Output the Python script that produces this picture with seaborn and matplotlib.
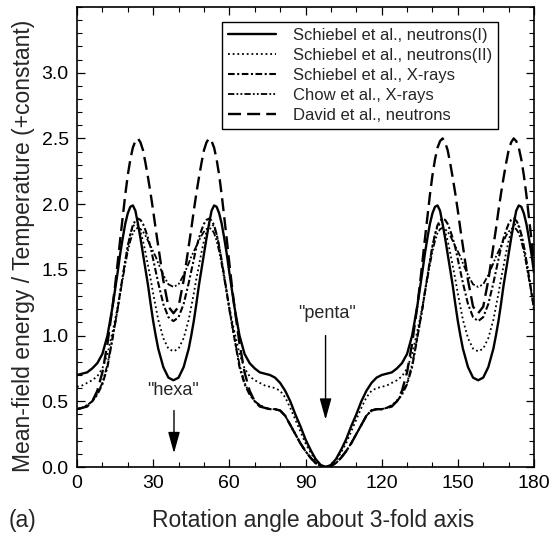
import matplotlib
matplotlib.use("Agg")
import matplotlib.pyplot as plt
import numpy as np
import pandas as pd
import seaborn as sns
from matplotlib.ticker import MultipleLocator, FormatStrFormatter

# ---------------- data ----------------
angle = ([0, 2, 4, 6, 8, 10, 12, 14] + list(range(15, 32)) + [32, 34, 36]
         + [38, 40, 42] + list(range(44, 63)) + list(range(64, 99, 2))
         + list(range(100, 135, 2)) + list(range(135, 152)) + [152, 154, 156, 158]
         + [160, 162, 164] + list(range(165, 181)))

schiebel_neutrons_1 = (
    [0.70, 0.71, 0.72, 0.75, 0.79, 0.86, 1.00, 1.22]
    + [1.35, 1.48, 1.62, 1.74, 1.85, 1.93, 1.98, 1.99, 1.95, 1.85, 1.74, 1.62, 1.50, 1.38, 1.24, 1.11, 1.00]
    + [0.90, 0.76, 0.68]
    + [0.66, 0.68, 0.76]
    + [0.90, 1.00, 1.11, 1.24, 1.38, 1.50, 1.62, 1.74, 1.85, 1.95, 1.99, 1.98, 1.93, 1.85, 1.74, 1.62, 1.48, 1.35, 1.22]
    + [1.00, 0.86, 0.79, 0.75, 0.72, 0.71, 0.70, 0.68, 0.64, 0.58, 0.50, 0.40, 0.31, 0.21, 0.13, 0.06, 0.015, 0.00]
    + [0.015, 0.06, 0.13, 0.21, 0.31, 0.40, 0.50, 0.58, 0.64, 0.68, 0.70, 0.71, 0.72, 0.75, 0.79, 0.86, 1.00, 1.22]
    + [1.35, 1.48, 1.62, 1.74, 1.85, 1.93, 1.98, 1.99, 1.95, 1.85, 1.74, 1.62, 1.50, 1.38, 1.24, 1.11, 1.00]
    + [0.90, 0.76, 0.68, 0.66]
    + [0.68, 0.76, 0.90]
    + [1.00, 1.11, 1.24, 1.38, 1.50, 1.62, 1.74, 1.85, 1.95, 1.99, 1.98, 1.93, 1.85, 1.74, 1.62, 1.48])

schiebel_neutrons_2 = (
    [0.61, 0.62, 0.64, 0.66, 0.69, 0.75, 0.86, 1.03]
    + [1.12, 1.22, 1.33, 1.45, 1.57, 1.68, 1.77, 1.83, 1.85, 1.84, 1.79, 1.72, 1.63, 1.53, 1.43, 1.32, 1.22]
    + [1.12, 0.98, 0.90]
    + [0.88, 0.90, 0.98]
    + [1.12, 1.22, 1.32, 1.43, 1.53, 1.63, 1.72, 1.79, 1.84, 1.85, 1.83, 1.77, 1.68, 1.57, 1.45, 1.33, 1.22, 1.12, 1.03]
    + [0.86, 0.75, 0.69, 0.66, 0.64, 0.62, 0.61, 0.60, 0.58, 0.53, 0.45, 0.36, 0.27, 0.18, 0.11, 0.05, 0.013, 0.00]
    + [0.013, 0.05, 0.11, 0.18, 0.27, 0.36, 0.45, 0.53, 0.58, 0.60, 0.61, 0.62, 0.64, 0.66, 0.69, 0.75, 0.86, 1.03]
    + [1.12, 1.22, 1.33, 1.45, 1.57, 1.68, 1.77, 1.83, 1.85, 1.84, 1.79, 1.72, 1.63, 1.53, 1.43, 1.32, 1.22]
    + [1.12, 0.98, 0.90, 0.88]
    + [0.90, 0.98, 1.12]
    + [1.22, 1.32, 1.43, 1.53, 1.63, 1.72, 1.79, 1.84, 1.85, 1.83, 1.77, 1.68, 1.57, 1.45, 1.33, 1.22])

schiebel_xrays = (
    [0.44, 0.45, 0.47, 0.50, 0.55, 0.63, 0.76, 0.98]
    + [1.09, 1.20, 1.33, 1.45, 1.57, 1.68, 1.77, 1.84, 1.875, 1.89, 1.88, 1.85, 1.80, 1.74, 1.67, 1.58, 1.49]
    + [1.40, 1.24, 1.14]
    + [1.11, 1.14, 1.24]
    + [1.40, 1.49, 1.58, 1.67, 1.74, 1.80, 1.85, 1.88, 1.89, 1.875, 1.84, 1.77, 1.68, 1.57, 1.45, 1.33, 1.20, 1.09, 0.98]
    + [0.76, 0.63, 0.55, 0.50, 0.47, 0.45, 0.44, 0.44, 0.43, 0.39, 0.32, 0.25, 0.18, 0.12, 0.07, 0.03, 0.008, 0.00]
    + [0.008, 0.03, 0.07, 0.12, 0.18, 0.25, 0.32, 0.39, 0.43, 0.44, 0.44, 0.45, 0.47, 0.50, 0.55, 0.63, 0.76, 0.98]
    + [1.09, 1.20, 1.33, 1.45, 1.57, 1.68, 1.77, 1.84, 1.875, 1.89, 1.88, 1.85, 1.80, 1.74, 1.67, 1.58, 1.49]
    + [1.40, 1.24, 1.14, 1.11]
    + [1.14, 1.24, 1.40]
    + [1.49, 1.58, 1.67, 1.74, 1.80, 1.85, 1.88, 1.89, 1.875, 1.84, 1.77, 1.68, 1.57, 1.45, 1.33, 1.20])

chow_xrays = (
    [0.44, 0.45, 0.47, 0.50, 0.56, 0.64, 0.78, 0.98]
    + [1.09, 1.20, 1.32, 1.43, 1.54, 1.64, 1.72, 1.78, 1.81, 1.82, 1.81, 1.79, 1.76, 1.72, 1.68, 1.64, 1.60]
    + [1.55, 1.46, 1.39]
    + [1.37, 1.39, 1.46]
    + [1.55, 1.60, 1.64, 1.68, 1.72, 1.76, 1.79, 1.81, 1.82, 1.81, 1.78, 1.72, 1.64, 1.54, 1.43, 1.32, 1.20, 1.09, 0.98]
    + [0.78, 0.64, 0.56, 0.50, 0.47, 0.45, 0.44, 0.44, 0.43, 0.39, 0.32, 0.25, 0.18, 0.12, 0.07, 0.03, 0.008, 0.00]
    + [0.008, 0.03, 0.07, 0.12, 0.18, 0.25, 0.32, 0.39, 0.43, 0.44, 0.44, 0.45, 0.47, 0.50, 0.56, 0.64, 0.78, 0.98]
    + [1.09, 1.20, 1.32, 1.43, 1.54, 1.64, 1.72, 1.78, 1.81, 1.82, 1.81, 1.79, 1.76, 1.72, 1.68, 1.64, 1.60]
    + [1.55, 1.46, 1.39, 1.37]
    + [1.39, 1.46, 1.55]
    + [1.60, 1.64, 1.68, 1.72, 1.76, 1.79, 1.81, 1.82, 1.81, 1.78, 1.72, 1.64, 1.54, 1.43, 1.32, 1.20])

david_neutrons = (
    [0.44, 0.45, 0.46, 0.50, 0.58, 0.72, 0.94, 1.22]
    + [1.38, 1.55, 1.73, 1.90, 2.07, 2.22, 2.34, 2.43, 2.48, 2.50, 2.47, 2.41, 2.31, 2.20, 2.08, 1.95, 1.81]
    + [1.68, 1.42, 1.22]
    + [1.17, 1.22, 1.42]
    + [1.68, 1.81, 1.95, 2.08, 2.20, 2.31, 2.41, 2.47, 2.50, 2.48, 2.43, 2.34, 2.22, 2.07, 1.90, 1.73, 1.55, 1.38, 1.22]
    + [0.94, 0.72, 0.58, 0.50, 0.46, 0.45, 0.44, 0.44, 0.43, 0.39, 0.32, 0.25, 0.18, 0.12, 0.07, 0.03, 0.008, 0.00]
    + [0.008, 0.03, 0.07, 0.12, 0.18, 0.25, 0.32, 0.39, 0.43, 0.44, 0.44, 0.45, 0.46, 0.50, 0.58, 0.72, 0.94, 1.22]
    + [1.38, 1.55, 1.73, 1.90, 2.07, 2.22, 2.34, 2.43, 2.48, 2.50, 2.47, 2.41, 2.31, 2.20, 2.08, 1.95, 1.81]
    + [1.68, 1.42, 1.22, 1.17]
    + [1.22, 1.42, 1.68]
    + [1.81, 1.95, 2.08, 2.20, 2.31, 2.41, 2.47, 2.50, 2.48, 2.43, 2.34, 2.22, 2.07, 1.90, 1.73, 1.55])

series_names = ["Schiebel et al., neutrons(I)", "Schiebel et al., neutrons(II)",
                "Schiebel et al., X-rays", "Chow et al., X-rays", "David et al., neutrons"]
series_values = [schiebel_neutrons_1, schiebel_neutrons_2, schiebel_xrays, chow_xrays, david_neutrons]

x_ticks = [0, 30, 60, 90, 120, 150, 180]
y_ticks = [0.0, 0.5, 1.0, 1.5, 2.0, 2.5, 3.0]

# ---------------- styling ----------------
sns.set_theme(style="ticks")
plt.rcParams['font.family'] = ['Liberation Sans', 'DejaVu Sans']

styles = [
    dict(lw=1.7, ls='-'),
    dict(lw=1.3, ls=(0, (1.0, 1.6))),
    dict(lw=1.5, ls=(0, (3.2, 1.2, 1.0, 1.2))),
    dict(lw=1.3, ls=(0, (3.5, 1.2, 1.0, 1.2, 1.0, 1.2))),
    dict(lw=1.7, ls=(0, (5.5, 2.6))),
]

fig = plt.figure(figsize=(5.52, 5.38), dpi=100)
ax = fig.add_axes([77 / 552, 71 / 538, 457 / 552, 460 / 538])

for name, vals, st in zip(series_names, series_values, styles):
    df = pd.DataFrame({"angle": angle, "value": vals})
    sns.lineplot(data=df, x="angle", y="value", ax=ax, color="black",
                 linewidth=st["lw"], linestyle=st["ls"], label=name)

ax.set_xlim(0, 180)
ax.set_ylim(0, 3.5)
ax.set_xticks(x_ticks)
ax.set_yticks(y_ticks)
ax.xaxis.set_minor_locator(MultipleLocator(10))
ax.yaxis.set_minor_locator(MultipleLocator(0.1))
ax.yaxis.set_major_formatter(FormatStrFormatter('%.1f'))
ax.tick_params(which='both', direction='in', top=True, right=True, colors='black')
ax.tick_params(which='major', length=6, width=0.9, labelsize=14)
ax.tick_params(axis='x', which='major', pad=6)
ax.tick_params(axis='y', which='major', pad=6)
ax.tick_params(which='minor', length=3.5, width=0.8)
for sp in ax.spines.values():
    sp.set_color('black')
    sp.set_linewidth(1.2)

ax.set_xlabel("Rotation angle about 3-fold axis", fontsize=16.5)
ax.set_ylabel("Mean-field energy / Temperature (+constant)", fontsize=16.5)
ax.xaxis.set_label_coords(0.516, -0.092)
ax.yaxis.set_label_coords(-0.092, 0.48)

fig.text(23 / 552, 18 / 538, "(a)", fontsize=16.5, ha='center', va='center')

# annotations
ax.text(37.7, 0.58, '"hexa"', fontsize=13, ha='center', va='center')
ax.annotate('', xy=(38.2, 0.105), xytext=(38.2, 0.43),
            arrowprops=dict(arrowstyle='-|>,head_length=1.3,head_width=0.36',
                            color='black', lw=1.0, shrinkA=0, shrinkB=0, mutation_scale=10))
ax.text(98.6, 1.17, '"penta"', fontsize=13, ha='center', va='center')
ax.annotate('', xy=(97.9, 0.36), xytext=(97.9, 1.0),
            arrowprops=dict(arrowstyle='-|>,head_length=1.3,head_width=0.36',
                            color='black', lw=1.0, shrinkA=0, shrinkB=0, mutation_scale=10))

handles, labels = ax.get_legend_handles_labels()
leg = ax.legend(handles, labels, loc='upper right', bbox_to_anchor=(0.921, 0.967),
                fontsize=12, frameon=True, fancybox=False, framealpha=1,
                edgecolor='black', borderpad=0.35, labelspacing=0.3,
                handlelength=2.9, handletextpad=1.0, borderaxespad=0)
leg.get_frame().set_linewidth(1.0)

fig.savefig("out.png", dpi=100)
